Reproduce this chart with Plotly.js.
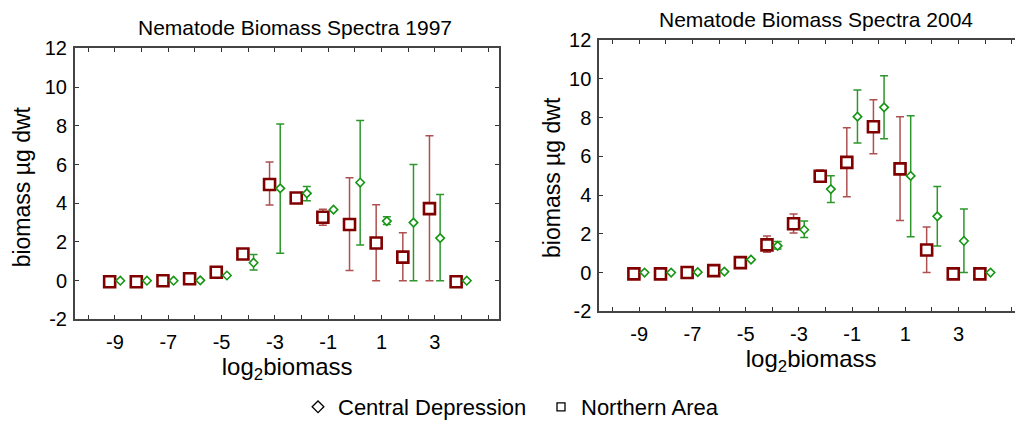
<!DOCTYPE html>
<html><head><meta charset="utf-8">
<script src="https://cdn.plot.ly/plotly-3.0.1.min.js"></script>
<style>html,body{margin:0;padding:0;overflow:hidden;background:#fff}</style>
</head><body><div id="chart"></div>
<script>
// log2 biomass size classes
const logBins = [-9,-8,-7,-6,-5,-4,-3,-2,-1,0,1,2,3,4];

// 1997 – Northern Area (squares)
const north1997     = [-0.05,-0.05,0,0.1,0.44,1.38,4.97,4.27,3.28,2.9,1.95,1.22,3.72,-0.05];
const north1997Low  = [null,null,null,null,null,null,3.91,null,2.86,0.53,0,0,0,null];
const north1997High = [null,null,null,null,null,null,6.13,null,3.69,5.32,3.92,2.48,7.49,null];
// 1997 – Central Depression (diamonds)
const central1997     = [0,0,0,0.02,0.27,0.93,4.77,4.51,3.67,5.07,3.08,3.0,2.2,0];
const central1997Low  = [null,null,null,null,null,0.55,1.42,4.13,null,1.85,2.9,0,0,null];
const central1997High = [null,null,null,null,null,1.35,8.09,4.87,null,8.27,3.3,6.0,4.45,null];

// 2004 – Northern Area (squares)
const north2004     = [-0.07,-0.07,0,0.1,0.51,1.43,2.52,4.97,5.69,7.53,5.35,1.16,-0.07,-0.07];
const north2004Low  = [null,null,null,null,null,1.05,2.04,4.75,3.91,6.13,2.69,0,null,null];
const north2004High = [null,null,null,null,null,1.89,3.02,5.29,7.48,8.92,8.05,2.35,null,null];
// 2004 – Central Depression (diamonds)
const central2004     = [0,0,0.02,0.05,0.67,1.38,2.21,4.31,8.05,8.53,4.99,2.9,1.63,0];
const central2004Low  = [null,null,null,null,null,1.21,1.81,3.62,6.69,6.91,1.85,1.37,0,null];
const central2004High = [null,null,null,null,null,1.6,2.66,5.0,9.43,10.16,8.09,4.44,3.28,null];

const xTickVals   = [-9,-7,-5,-3,-1,1,3];
const xTickLabels = ['-9','-7','-5','-3','-1','1','3'];
const yTickVals   = [-2,0,2,4,6,8,10,12];
const yTickLabels = ['-2','0','2','4','6','8','10','12'];

const seriesNames = ['Central Depression','Northern Area'];
const panelTitles = ['Nematode Biomass Spectra 1997','Nematode Biomass Spectra 2004'];
const xTitle = 'log<sub>2</sub>biomass';
const yTitle = 'biomass µg dwt';

const W = 1040, H = 428;
const FONT = 'Liberation Sans, Arial, Helvetica, sans-serif';
const RED = 'rgb(128,0,0)', RED_ERR = 'rgb(175,80,80)';
const GREEN = 'rgb(20,150,20)', GREEN_ERR = 'rgb(45,150,45)';

function trace(vals, lo, hi, kind, xa, ya){
  const isSq = kind === 'sq';
  const shift = isSq ? -0.2 : 0.2;
  return {
    type:'scatter', mode:'markers', xaxis:xa, yaxis:ya, showlegend:false,
    name: isSq ? seriesNames[1] : seriesNames[0],
    x: logBins.map(b => b + shift), y: vals,
    marker: isSq
      ? {symbol:'square', size:11, color:'white', line:{color:RED, width:2.6}}
      : {symbol:'diamond', size:6.5, color:'white', line:{color:GREEN, width:1.6}},
    error_y: {type:'data', symmetric:false, visible:true,
      array: hi.map((h,i)=> h==null?null:h-vals[i]),
      arrayminus: lo.map((l,i)=> l==null?null:vals[i]-l),
      color: isSq ? RED_ERR : GREEN_ERR, thickness:1.5, width:4}
  };
}

const data = [
  trace(north1997, north1997Low, north1997High, 'sq', 'x', 'y'),
  trace(central1997, central1997Low, central1997High, 'di', 'x', 'y'),
  trace(north2004, north2004Low, north2004High, 'sq', 'x2', 'y2'),
  trace(central2004, central2004Low, central2004High, 'di', 'x2', 'y2'),
  // legend keys (black symbols)
  {type:'scatter', mode:'markers', x:[null], y:[null], name:seriesNames[0], showlegend:true,
   marker:{symbol:'diamond-open', size:9, color:'black', line:{width:1.3}}},
  {type:'scatter', mode:'markers', x:[null], y:[null], name:seriesNames[1], showlegend:true,
   marker:{symbol:'square-open', size:8, color:'black', line:{width:1.3}}}
];

function xaxis(domain, anchor){
  return {domain, anchor, range:[-10.5,5.42], tickmode:'array', tickvals:xTickVals, ticktext:xTickLabels,
    ticks:'inside', ticklen:4, tickwidth:1, tickcolor:'#333', mirror:'ticks', showline:true, linecolor:'#444', linewidth:2,
    minor:{tickmode:'linear', tick0:0, dtick:1, ticks:'inside', ticklen:4, tickwidth:1, tickcolor:'#333', showgrid:false},
    showgrid:false, zeroline:false, tickfont:{size:20, color:'#000', family:FONT}, ticklabelstandoff:4,
    title:{text:xTitle, font:{size:24, color:'#000', family:FONT}, standoff:6}};
}
function yaxis(domain, anchor){
  return {domain, anchor, range:[-2,12], tickmode:'array', tickvals:yTickVals, ticktext:yTickLabels,
    ticks:'inside', ticklen:4, tickwidth:1, tickcolor:'#333', mirror:'ticks', showline:true, linecolor:'#444', linewidth:2,
    showgrid:false, zeroline:false, tickfont:{size:20, color:'#000', family:FONT}, ticklabelstandoff:2};
}

const layout = {
  width:W, height:H, margin:{l:0,r:0,t:0,b:0}, paper_bgcolor:'#fff', plot_bgcolor:'#fff',
  font:{family:FONT, color:'#000'},
  xaxis: xaxis([75/W, 499.3/W], 'y'),
  yaxis: yaxis([1-324/H, 1-49/H], 'x'),
  xaxis2: xaxis([599.3/W, 1023/W], 'y2'),
  yaxis2: yaxis([1-315.7/H, 1-40.7/H], 'x2'),
  showlegend:true,
  legend:{orientation:'h', x:298/W, xanchor:'left', y:1-413/H, yanchor:'middle',
    entrywidth:198, entrywidthmode:'pixels',
    font:{size:22, family:FONT, color:'#000'}, bgcolor:'rgba(0,0,0,0)'},
  annotations:[
    {text:panelTitles[0], xref:'paper', yref:'paper', x:294.5/W, y:1-28/H, xanchor:'center', yanchor:'middle',
     showarrow:false, font:{size:21, family:FONT, color:'#000'}},
    {text:panelTitles[1], xref:'paper', yref:'paper', x:816/W, y:1-20/H, xanchor:'center', yanchor:'middle',
     showarrow:false, font:{size:21, family:FONT, color:'#000'}},
    {text:yTitle, xref:'paper', yref:'paper', x:22/W, y:1-190/H, xanchor:'center', yanchor:'middle', textangle:-90,
     showarrow:false, font:{size:23, family:FONT, color:'#000'}},
    {text:yTitle, xref:'paper', yref:'paper', x:552/W, y:1-180.5/H, xanchor:'center', yanchor:'middle', textangle:-90,
     showarrow:false, font:{size:23, family:FONT, color:'#000'}}
  ]
};

Plotly.newPlot('chart', data, layout, {displayModeBar:false, staticPlot:true});
</script></body></html>
